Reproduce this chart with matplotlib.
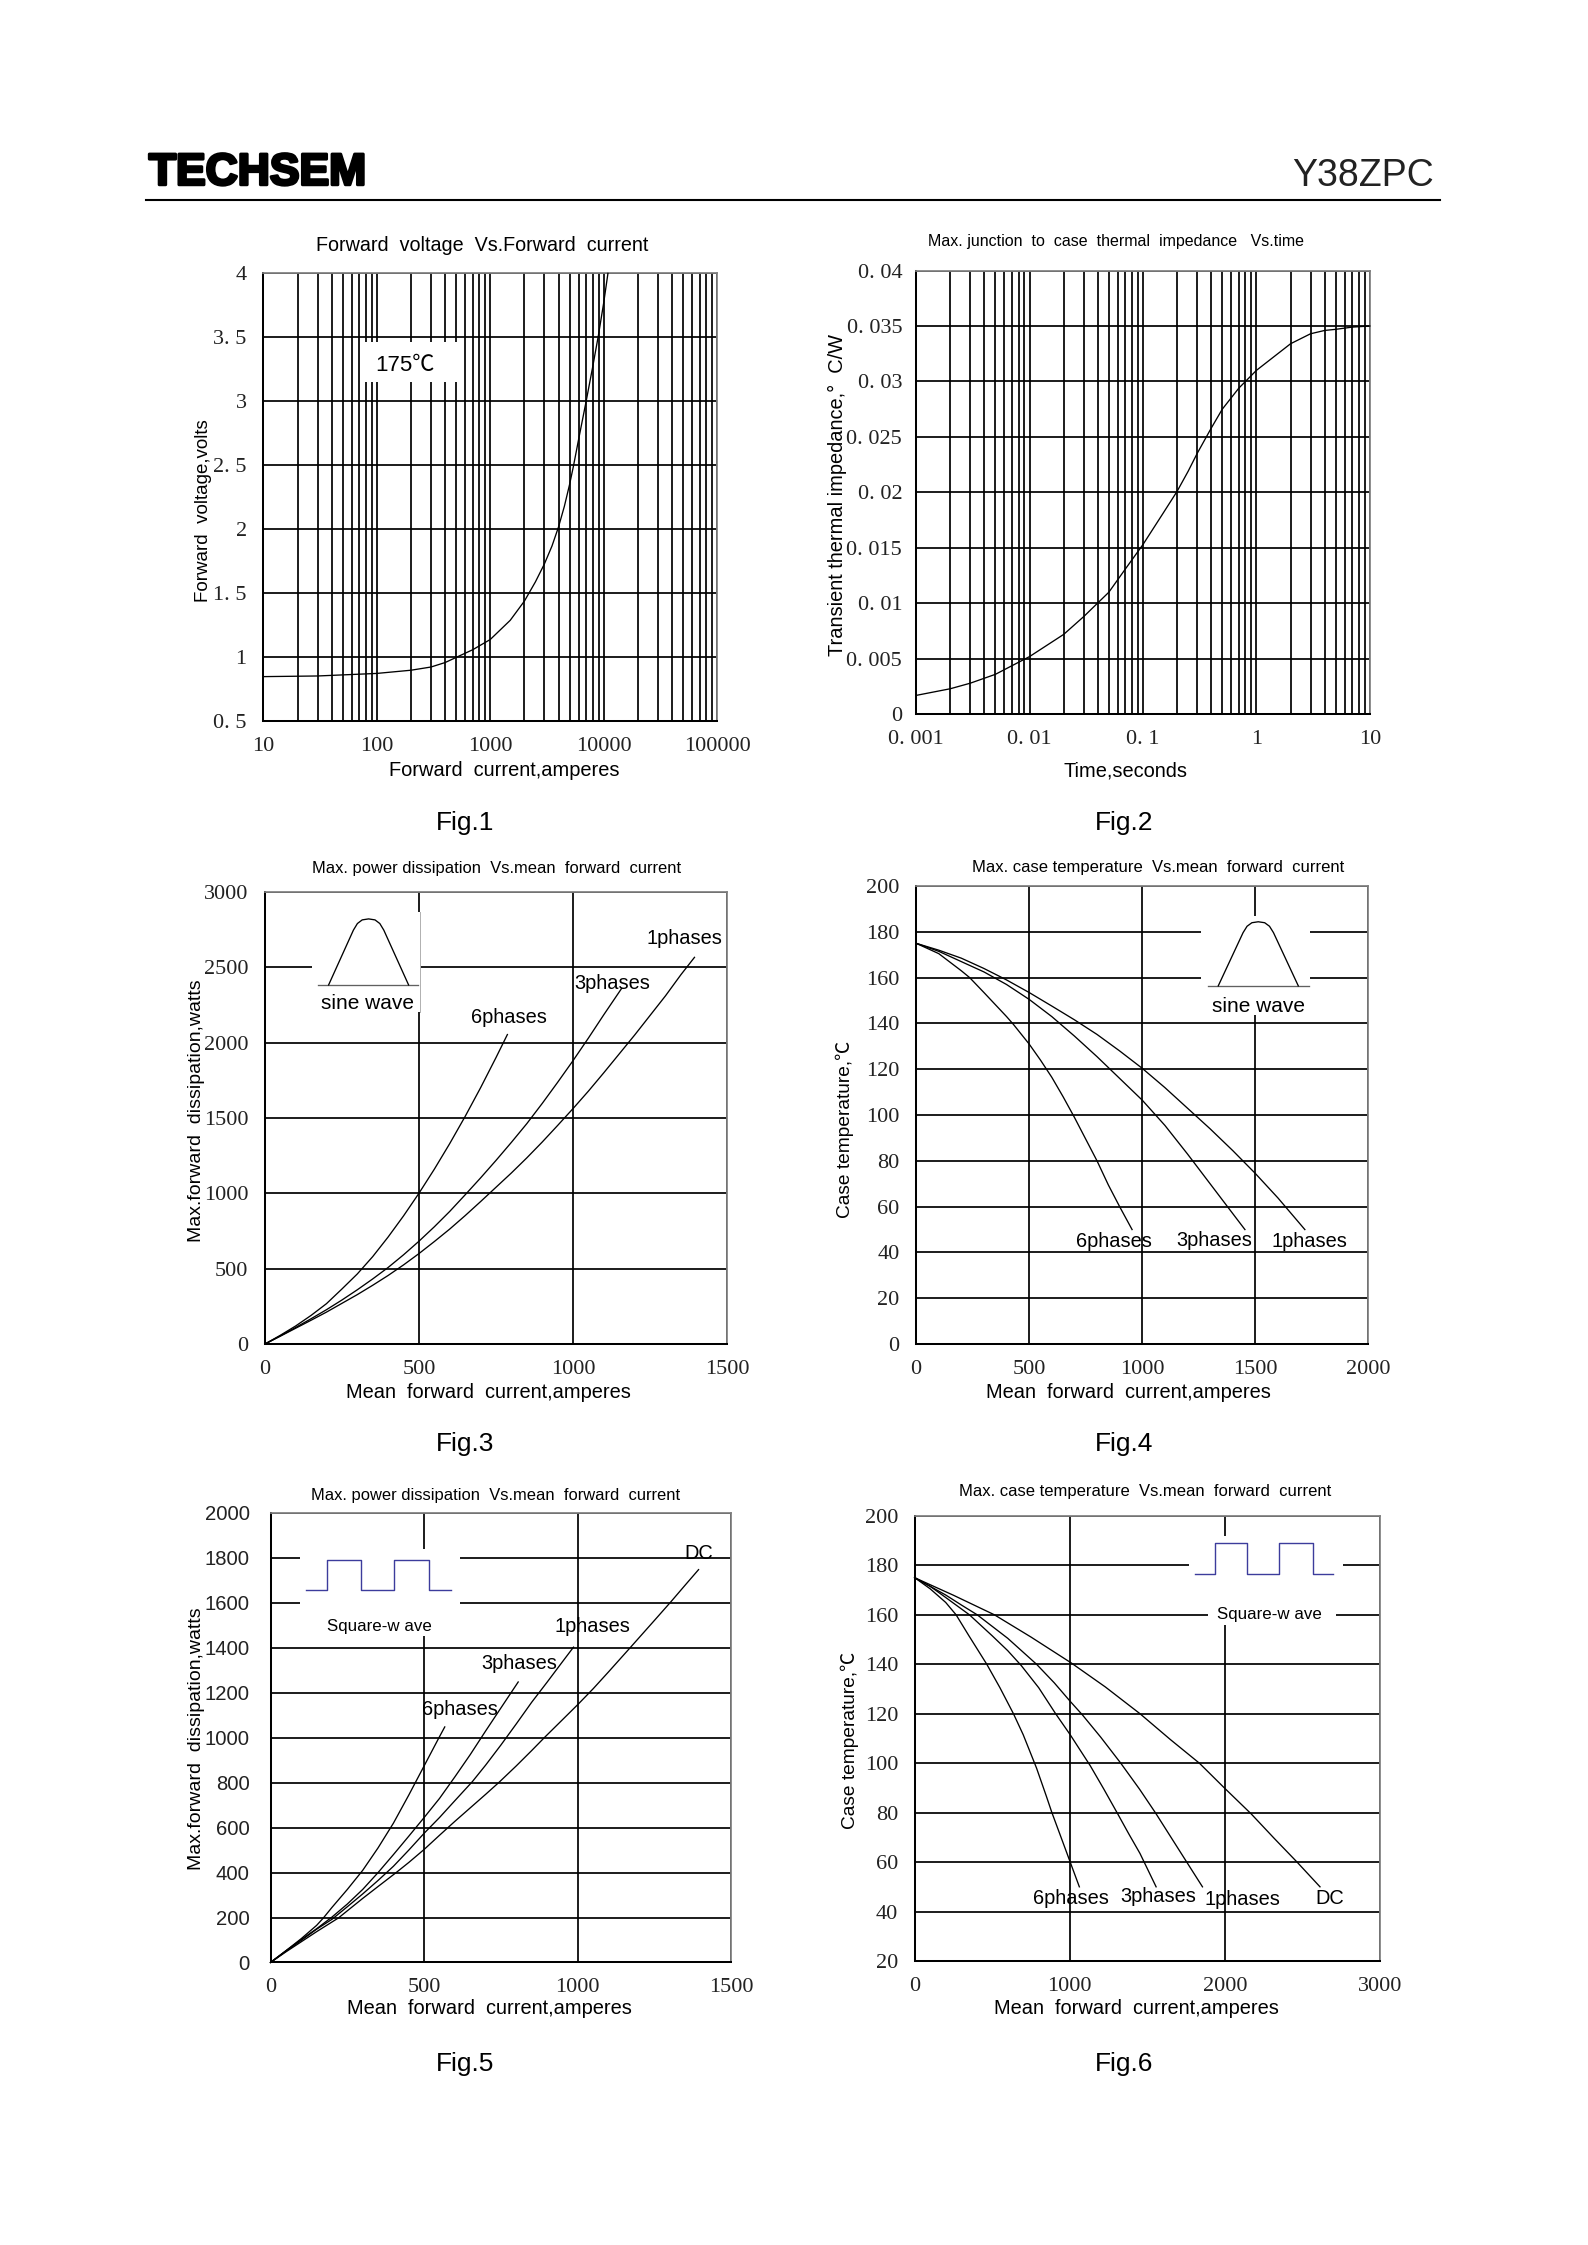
import matplotlib
matplotlib.use('Agg')
import matplotlib.pyplot as plt
import matplotlib.patheffects as pe
from matplotlib.patches import Rectangle
from matplotlib.ticker import FixedLocator, NullFormatter, NullLocator

# Fig.1
f1_i = [10, 30, 100, 200, 300, 400, 500, 700, 1000, 1500, 2000, 2500, 3000, 3500, 4000, 4500, 5000, 5400, 6000, 7000, 8000, 9000, 10000, 10900]
f1_v = [.85, .855, .875, .90, .925, .96, 1.0, 1.06, 1.14, 1.29, 1.44, 1.59, 1.73, 1.87, 2.02, 2.18, 2.35, 2.49, 2.70, 3.0, 3.27, 3.52, 3.77, 4.0]

# Fig.2
f2_t = [.001, .002, .003, .005, .01, .02, .03, .05, .07, .1, .15, .2, .25, .3, .4, .5, .7, 1, 2, 3, 4, 5, 7, 10]
f2_z = [.0017, .0023, .0028, .0036, .0052, .0072, .0088, .011, .0131, .0153, .0181, .0201, .0219, .0235, .0258, .0275, .0294, .031, .0334, .0343, .0346, .0347, .0349, .035]

# Fig.3
f3_6_x = [0, 50, 100, 150, 200, 250, 300, 350, 400, 450, 500, 550, 600, 650, 700, 750, 787]
f3_6_y = [0, 58, 120, 190, 268, 365, 465, 580, 710, 850, 1000, 1160, 1330, 1510, 1700, 1900, 2053]
f3_3_x = [0, 50, 100, 150, 200, 250, 300, 350, 400, 450, 500, 550, 600, 650, 700, 750, 800, 850, 900, 950, 1000, 1050, 1100, 1158]
f3_3_y = [0, 54, 110, 168, 228, 292, 360, 432, 508, 592, 682, 778, 880, 990, 1102, 1218, 1338, 1462, 1596, 1736, 1880, 2030, 2185, 2360]
f3_1_x = [0, 50, 100, 150, 200, 250, 300, 350, 400, 450, 500, 550, 600, 650, 700, 750, 800, 850, 900, 950, 1000, 1050, 1100, 1150, 1200, 1250, 1300, 1350, 1394]
f3_1_y = [0, 52, 105, 158, 212, 270, 328, 390, 455, 525, 600, 680, 763, 852, 945, 1040, 1135, 1235, 1340, 1450, 1562, 1678, 1800, 1925, 2050, 2180, 2310, 2450, 2565]

# Fig.4
f4_6_x = [0, 100, 200, 237, 300, 400, 431, 500, 550, 600, 650, 700, 750, 800, 850, 900, 955]
f4_6_y = [175, 170.5, 163, 160, 153.5, 143, 139.5, 131, 124, 116.5, 108, 99, 89.5, 80, 69.5, 60, 50]
f4_3_x = [0, 100, 200, 300, 400, 500, 600, 700, 800, 900, 1000, 1100, 1200, 1300, 1400, 1454]
f4_3_y = [175, 171.5, 167, 162.5, 157, 150.5, 143, 134.5, 125.5, 116, 106.5, 95.5, 83, 70, 57, 50]
f4_1_x = [0, 100, 200, 300, 400, 500, 600, 700, 800, 900, 1000, 1100, 1200, 1300, 1400, 1500, 1600, 1719]
f4_1_y = [175, 172, 168.5, 164, 159, 153.5, 147.6, 141.6, 135.2, 128, 120.4, 112, 103, 94, 84.5, 74.5, 63.8, 50]

# Fig.5
f5_6_x = [0, 50, 100, 150, 172, 200, 250, 300, 350, 400, 450, 500, 550, 567]
f5_6_y = [0, 52, 106, 165, 198, 245, 325, 410, 510, 620, 745, 875, 1005, 1048]
f5_3_x = [0, 50, 100, 150, 200, 250, 300, 350, 400, 450, 500, 550, 600, 650, 700, 750, 806]
f5_3_y = [0, 52, 102, 150, 202, 260, 325, 400, 480, 562, 645, 730, 826, 925, 1030, 1133, 1248]
f5_1_x = [0, 50, 100, 150, 200, 250, 300, 350, 400, 450, 500, 550, 600, 657, 700, 750, 800, 850, 900, 950, 986]
f5_1_y = [0, 50, 98, 148, 192, 248, 305, 365, 428, 500, 575, 645, 720, 805, 878, 968, 1062, 1158, 1247, 1338, 1403]
f5_dc_x = [0, 50, 100, 150, 200, 221, 300, 350, 408, 450, 500, 550, 600, 650, 700, 744, 800, 850, 893, 950, 1001, 1050, 1100, 1172, 1250, 1303, 1350, 1393]
f5_dc_y = [0, 47, 92, 137, 180, 198, 285, 338, 399, 445, 503, 566, 628, 688, 748, 802, 875, 943, 1003, 1080, 1149, 1218, 1293, 1403, 1523, 1605, 1680, 1748]

# Fig.6
f6_6_x = [0, 100, 200, 267, 350, 465, 550, 637, 700, 786, 850, 885, 950, 1003, 1062]
f6_6_y = [175, 170.5, 165, 160, 151.5, 140, 130.5, 120, 111.5, 98, 86.5, 80, 69, 60, 50]
f6_3_x = [0, 100, 200, 353, 500, 600, 687, 800, 909, 1003, 1132, 1220, 1305, 1380, 1453, 1557]
f6_3_y = [175, 171.5, 167, 160, 151.5, 145.5, 139.5, 130.5, 120, 111.5, 99, 89.5, 80, 71.5, 63.5, 50]
f6_1_x = [0, 100, 200, 300, 403, 600, 786, 900, 1003, 1082, 1200, 1329, 1450, 1552, 1630, 1712, 1790, 1856]
f6_1_y = [175, 171.5, 168, 164, 160, 150.5, 140, 132.5, 125, 119.5, 110.5, 100, 89.5, 80, 72.3, 64.2, 56.5, 50]
f6_dc_x = [0, 130, 250, 514, 750, 1008, 1230, 1453, 1650, 1836, 1997, 2170, 2320, 2466, 2614]
f6_dc_y = [175, 171.3, 167.9, 160, 151, 140.6, 130.8, 120, 109.5, 100, 90, 79.5, 69.5, 60, 50]

# inset wave shapes, 0..1 in their own little box
sine_x = [0, .31, .36, .42, .5, .58, .64, .69, 1]
sine_y = [0, .83, .93, .985, 1, .985, .93, .83, 0]
square_x = [0, .147, .147, .38, .38, .61, .61, .85, .85, 1]
square_y = [0, 0, 1, 1, 0, 0, 1, 1, 0, 0]

W, H = 1588, 2245
S = 1.4314  # positions below were measured on the reduced view

SANS = ['Liberation Sans', 'Noto Sans CJK SC', 'DejaVu Sans']
SERIF = ['Liberation Serif', 'DejaVu Serif']
GRID_LW = 1.25
CURVE_LW = 0.95
TICK = 16
TICK_COLOR = '#222222'

fig = plt.figure(figsize=(W / 100, H / 100), dpi=100, facecolor='white')


def put(x, y, s, size=14.4, family=SANS, ha='center', va='center', **kw):
    return fig.text(x * S / W, 1 - (y + 1) * S / H, s, fontsize=size, family=family, ha=ha, va=va, **kw)


def panel(box, xlim, ylim, xticks, xlabels, yticks, ylabels, yfamily=SERIF, ysize=TICK, ypad=12, log=False):
    l, r, t, b = box
    ax = fig.add_axes([l * S / W, 1 - b * S / H, (r - l) * S / W, (b - t) * S / H])
    if log:
        ax.set_xscale('log')
        minors = [m * 10.0 ** e for e in range(-4, 6) for m in range(2, 10)]
        ax.xaxis.set_minor_locator(FixedLocator(minors))
        ax.xaxis.set_minor_formatter(NullFormatter())
        ax.grid(True, which='minor', axis='x', color='black', lw=GRID_LW)
    else:
        ax.xaxis.set_minor_locator(NullLocator())
    ax.set_xlim(xlim)
    ax.set_ylim(ylim)
    ax.set_xticks(xticks)
    ax.set_xticklabels(xlabels, family=SERIF, fontsize=TICK, color=TICK_COLOR)
    ax.set_yticks(yticks)
    ax.set_yticklabels(ylabels, family=yfamily, fontsize=ysize, color=TICK_COLOR)
    ax.tick_params(which='both', length=0)
    ax.tick_params(axis='x', pad=11.5)
    ax.tick_params(axis='y', pad=ypad)
    ax.grid(True, which='major', color='black', lw=GRID_LW)
    ax.set_axisbelow(True)
    for side in ['top', 'right']:
        ax.spines[side].set_color('#808080')
        ax.spines[side].set_linewidth(GRID_LW)
    for side in ['left', 'bottom']:
        ax.spines[side].set_linewidth(GRID_LW + 0.2)
    return ax


def curve(ax, x, y):
    ax.plot(x, y, color='black', lw=CURVE_LW, solid_joinstyle='round', zorder=3, clip_on=False)


def blank(ax, x0, x1, y0, y1):
    ax.add_patch(Rectangle((x0, y0), x1 - x0, y1 - y0, transform=ax.transAxes, fc='white', ec='none', zorder=1.5))


def wave(ax, shape_x, shape_y, x0, x1, y0, y1, color='black', lw=CURVE_LW):
    xs = [x0 + v * (x1 - x0) for v in shape_x]
    ys = [y0 + v * (y1 - y0) for v in shape_y]
    ax.plot(xs, ys, color=color, lw=lw, transform=ax.transAxes, zorder=2)


# header
put(104, 120, 'TECHSEM', size=32, ha='left', weight='bold',
    path_effects=[pe.withStroke(linewidth=2.2, foreground='black')])
put(1002, 122, 'Y38ZPC', size=27, ha='right', color='#222222')
fig.add_artist(plt.Line2D([102 * S / W, 1006 * S / W], [1 - 139.5 * S / H] * 2, color='black', lw=1.5))

# Fig.1
ax = panel((184, 501, 191, 504), (10, 100000), (0.5, 4), [10, 100, 1000, 10000, 100000],
           ['10', '100', '1000', '10000', '100000'], [.5, 1, 1.5, 2, 2.5, 3, 3.5, 4],
           ['0. 5', '1', '1. 5', '2', '2. 5', '3', '3. 5', '4'], log=True)
curve(ax, f1_i, f1_v)
blank(ax, .224, .426, .758, .846)
put(283, 254, '175℃', size=16)
put(337, 170.5, 'Forward  voltage  Vs.Forward  current', size=14.2)
put(352.5, 537.5, 'Forward  current,amperes')
put(142.5, 355.5, 'Forward  voltage,volts', size=13.5, rotation=90)
put(325, 574, 'Fig.1', size=19)

# Fig.2
ax = panel((640, 957, 189, 499), (.001, 10), (0, .04), [.001, .01, .1, 1, 10],
           ['0. 001', '0. 01', '0. 1', '1', '10'], [0, .005, .01, .015, .02, .025, .03, .035, .04],
           ['0', '0. 005', '0. 01', '0. 015', '0. 02', '0. 025', '0. 03', '0. 035', '0. 04'], ypad=10, log=True)
curve(ax, f2_t, f2_z)
put(779.5, 168, 'Max. junction  to  case  thermal  impedance   Vs.time', size=11.5)
put(786, 537.5, 'Time,seconds')
put(585, 345, 'Transient thermal impedance,°  C/W', rotation=90)
put(785, 574, 'Fig.2', size=19)

# Fig.3
ax = panel((185, 508, 623, 939), (0, 1500), (0, 3000), [0, 500, 1000, 1500],
           ['0', '500', '1000', '1500'], [0, 500, 1000, 1500, 2000, 2500, 3000],
           ['0', '500', '1000', '1500', '2000', '2500', '3000'])
blank(ax, .102, .336, .735, .956)
ax.plot([.336, .336], [.735, .956], color='#b0b0b0', lw=0.7, transform=ax.transAxes, zorder=2)
wave(ax, [0, 1], [0, 0], .116, .331, .794, .794, color='#606060')
wave(ax, sine_x, sine_y, .138, .311, .794, .94)
curve(ax, f3_6_x, f3_6_y)
curve(ax, f3_3_x, f3_3_y)
curve(ax, f3_1_x, f3_1_y)
put(257, 700, 'sine wave', size=15)
put(478.5, 655, '1phases')
put(428, 686, '3phases')
put(355.5, 710, '6phases')
put(347, 606, 'Max. power dissipation  Vs.mean  forward  current', size=11.9)
put(341.5, 971.5, 'Mean  forward  current,amperes')
put(137.5, 775, 'Max.forward  dissipation,watts', size=14, rotation=90)
put(325, 1008, 'Fig.3', size=19)

# Fig.4
ax = panel((640, 956, 619, 939), (0, 2000), (0, 200), [0, 500, 1000, 1500, 2000],
           ['0', '500', '1000', '1500', '2000'], [0, 20, 40, 60, 80, 100, 120, 140, 160, 180, 200],
           ['0', '20', '40', '60', '80', '100', '120', '140', '160', '180', '200'])
blank(ax, .63, .87, .719, .934)
wave(ax, [0, 1], [0, 0], .646, .868, .782, .782, color='#606060')
wave(ax, sine_x, sine_y, .668, .845, .782, .922)
curve(ax, f4_6_x, f4_6_y)
curve(ax, f4_3_x, f4_3_y)
curve(ax, f4_1_x, f4_1_y)
put(879, 702, 'sine wave', size=15)
put(778, 866, '6phases')
put(848, 865.5, '3phases')
put(915, 866.5, '1phases')
put(809, 605, 'Max. case temperature  Vs.mean  forward  current', size=12)
put(788, 971.5, 'Mean  forward  current,amperes')
put(590, 788, 'Case temperature,℃', size=13.8, rotation=90)
put(785, 1008, 'Fig.4', size=19)

# Fig.5
ax = panel((189, 511, 1057, 1371), (0, 1500), (0, 2000), [0, 500, 1000, 1500],
           ['0', '500', '1000', '1500'], list(range(0, 2001, 200)),
           [str(v) for v in range(0, 2001, 200)], yfamily=SANS, ysize=14.6, ypad=15)
blank(ax, .063, .412, .727, .92)
wave(ax, square_x, square_y, .076, .392, .828, .895, color='#3c3c9c', lw=1.0)
curve(ax, f5_6_x, f5_6_y)
curve(ax, f5_3_x, f5_3_y)
curve(ax, f5_1_x, f5_1_y)
curve(ax, f5_dc_x, f5_dc_y)
put(265, 1135, 'Square-w ave', size=12.2)
put(488, 1084, 'DC')
put(414, 1135, '1phases')
put(363, 1161, '3phases')
put(321, 1193, '6phases')
put(346, 1044, 'Max. power dissipation  Vs.mean  forward  current', size=11.9)
put(342, 1402.5, 'Mean  forward  current,amperes')
put(137.5, 1214, 'Max.forward  dissipation,watts', size=14, rotation=90)
put(325, 1441, 'Fig.5', size=19)

# Fig.6
ax = panel((639, 964, 1059, 1370), (0, 3000), (20, 200), [0, 1000, 2000, 3000],
           ['0', '1000', '2000', '3000'], list(range(20, 201, 20)),
           [str(v) for v in range(20, 201, 20)])
blank(ax, .59, .92, .82, .955)
blank(ax, .63, .905, .755, .82)
wave(ax, square_x, square_y, .602, .9, .87, .94, color='#3c3c9c', lw=1.0)
curve(ax, f6_6_x, f6_6_y)
curve(ax, f6_3_x, f6_3_y)
curve(ax, f6_1_x, f6_1_y)
curve(ax, f6_dc_x, f6_dc_y)
put(887, 1127, 'Square-w ave', size=12.2)
put(748, 1325, '6phases')
put(809, 1324, '3phases')
put(868, 1326, '1phases')
put(929, 1325, 'DC')
put(800, 1041, 'Max. case temperature  Vs.mean  forward  current', size=12)
put(794, 1402.5, 'Mean  forward  current,amperes')
put(594, 1215, 'Case temperature,℃', size=13.8, rotation=90)
put(785, 1441, 'Fig.6', size=19)

fig.savefig('out.png', dpi=100)
